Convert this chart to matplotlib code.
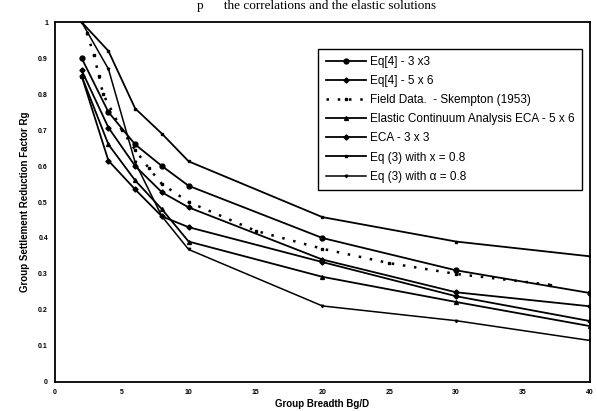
import matplotlib
matplotlib.use("Agg")
import matplotlib.pyplot as plt
from matplotlib.ticker import FuncFormatter

plt.rcParams['font.family'] = ['Liberation Sans', 'DejaVu Sans']

# group breadth Bg/D where the curves are evaluated
breadth = [2, 4, 6, 8, 10, 20, 30, 40]

eq4_3x3 = [0.90, 0.75, 0.66, 0.60, 0.545, 0.40, 0.31, 0.247]
eq4_5x6 = [0.866, 0.707, 0.60, 0.527, 0.485, 0.34, 0.249, 0.21]
eca_5x6 = [0.85, 0.66, 0.56, 0.48, 0.39, 0.292, 0.222, 0.155]
eca_3x3 = [0.85, 0.615, 0.535, 0.46, 0.43, 0.333, 0.238, 0.169]
eq3_x = [1.0, 0.92, 0.76, 0.69, 0.613, 0.458, 0.39, 0.349]
eq3_a = [1.0, 0.87, 0.61, 0.46, 0.368, 0.211, 0.17, 0.115]

# field data - Skempton
field_x = [2.4, 2.9, 3.3, 3.6, 5, 6, 7, 8, 10, 15, 20, 25, 30, 37]
field_y = [0.97, 0.91, 0.85, 0.80, 0.70, 0.645, 0.595, 0.55, 0.50, 0.42, 0.37, 0.33, 0.30, 0.27]

labels = ['Eq[4] - 3 x3', 'Eq[4] - 5 x 6', 'Field Data.  - Skempton (1953)',
          'Elastic Continuum Analysis ECA - 5 x 6', 'ECA - 3 x 3',
          'Eq (3) with x = 0.8', 'Eq (3) with \u03b1 = 0.8']

fig = plt.figure(figsize=(5.97, 4.11), dpi=100)
ax = fig.add_axes([0.092, 0.071, 0.896, 0.875])

ax.plot(breadth, eq4_3x3, color='black', lw=1.3, marker='o', ms=3.5, label=labels[0])
ax.plot(breadth, eq4_5x6, color='black', lw=1.3, marker='D', ms=2.6, label=labels[1])
ax.plot(field_x, field_y, color='black', lw=1.8, ls=(0, (1, 3.5)), marker='s', ms=1.5, label=labels[2])
ax.plot(breadth, eca_5x6, color='black', lw=1.3, marker='^', ms=2.8, label=labels[3])
ax.plot(breadth, eca_3x3, color='black', lw=1.3, marker='D', ms=2.6, label=labels[4])
ax.plot(breadth, eq3_x, color='black', lw=1.3, marker='s', ms=1.8, label=labels[5])
ax.plot(breadth, eq3_a, color='black', lw=1.1, marker='v', ms=1.8, label=labels[6])

ax.set_xlim(0, 40)
ax.set_ylim(0, 1)
ax.set_xticks(range(0, 41, 5))
ax.set_yticks([i / 10 for i in range(11)])
fmt = FuncFormatter(lambda v, p: '{:g}'.format(round(v, 1)))
ax.xaxis.set_major_formatter(fmt)
ax.yaxis.set_major_formatter(fmt)
ax.tick_params(length=0, labelsize=5, pad=5)
for lab in ax.get_xticklabels() + ax.get_yticklabels():
    lab.set_fontweight('bold')
for s in ax.spines.values():
    s.set_linewidth(1.3)

ax.set_xlabel('Group Breadth Bg/D', fontsize=7, fontweight='bold', labelpad=2)
ax.set_ylabel('Group Settlement Reduction Factor Rg', fontsize=7, fontweight='bold', labelpad=6)

leg = ax.legend(loc='upper right', bbox_to_anchor=(0.985, 0.895), bbox_transform=fig.transFigure,
                fontsize=8.5, handlelength=3.4, labelspacing=0.6, borderpad=0.6, handletextpad=0.4,
                fancybox=False, framealpha=1, edgecolor='black')
leg.get_frame().set_linewidth(1.0)

# caption remnant of the scanned page at the top edge
fig.text(0.53, 1.0, 'p      the correlations and the elastic solutions',
         ha='center', va='top', fontsize=9.5, family=['Liberation Serif', 'DejaVu Serif'])

fig.savefig('out.png', dpi=100)
